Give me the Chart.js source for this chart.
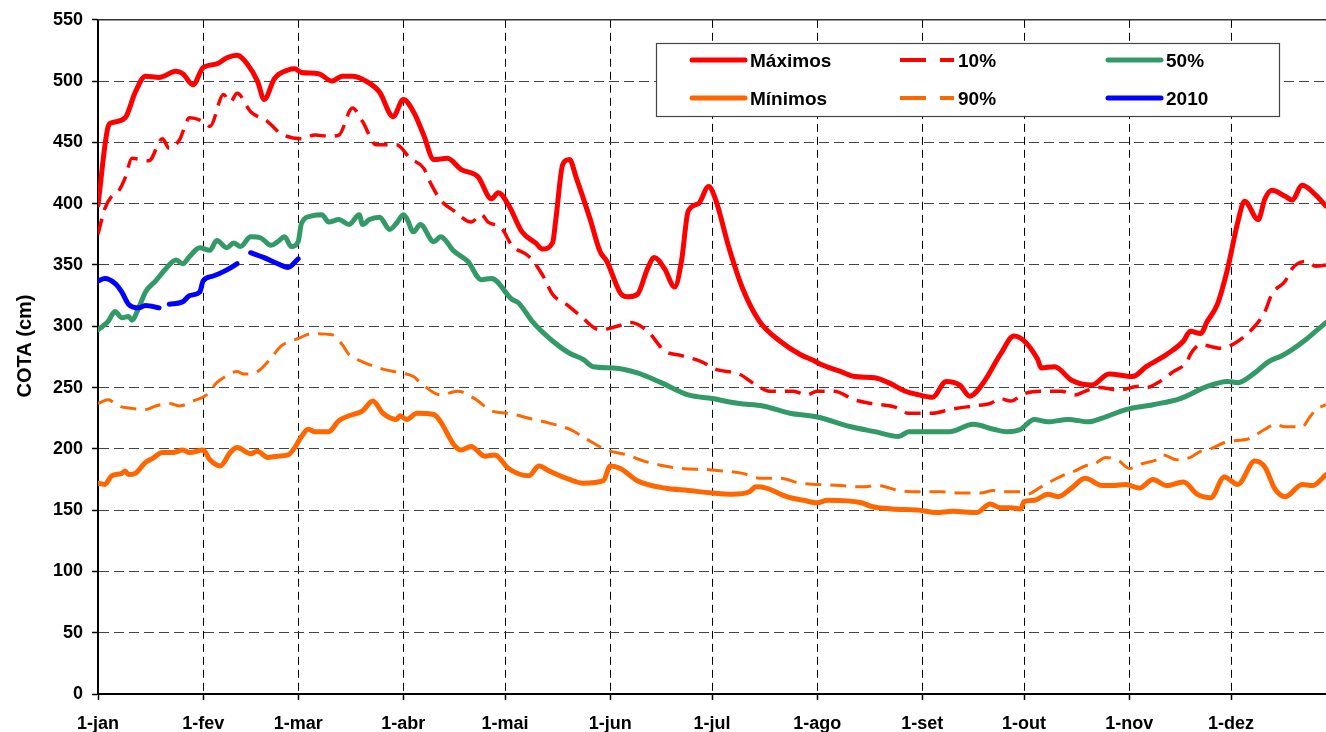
<!DOCTYPE html>
<html>
<head>
<meta charset="utf-8">
<script src="https://cdn.jsdelivr.net/npm/chart.js@4.4.0/dist/chart.umd.min.js"></script>
<style>
  html, body { margin: 0; padding: 0; background: #fff; }
  canvas { display: block; }
</style>
</head>
<body>
<canvas id="chart" width="1326" height="732"></canvas>
<script>
// x is the day of the year (0 = 1-jan)
const monthStarts = [0, 31, 59, 90, 120, 151, 181, 212, 243, 273, 304, 334];
const monthLabels = ['1-jan', '1-fev', '1-mar', '1-abr', '1-mai', '1-jun', '1-jul', '1-ago', '1-set', '1-out', '1-nov', '1-dez'];

const maxDays = [0, 3, 4, 8, 11, 14, 18, 23, 25, 28, 31, 35, 38, 41, 44, 47, 49, 52, 56, 58, 60, 65, 69, 72, 75, 79, 83, 87, 90, 93, 96, 99, 103, 107, 112, 116, 118, 121, 125, 129, 131, 134, 135, 137, 139, 141, 145, 148, 150, 154, 156, 159, 162, 164, 167, 170, 172, 174, 177, 180, 182, 186, 190, 195, 201, 207, 211, 213, 219, 223, 229, 233, 238, 242, 246, 250, 254, 257, 261, 266, 270, 277, 278, 282, 287, 293, 298, 305, 309, 315, 320, 322, 325, 327, 330, 333, 336, 338, 342, 344, 346, 350, 352, 355, 359, 362];
const maxVals = [399, 463, 466, 470, 491, 504, 503, 508, 506, 497, 511, 514, 519, 521, 514, 500, 485, 502, 509, 510, 507, 506, 500, 504, 504, 500, 491, 471, 485, 475, 456, 436, 437, 428, 422, 404, 409, 399, 377, 368, 363, 368, 388, 432, 436, 421, 388, 361, 353, 327, 324, 326, 347, 356, 347, 332, 353, 394, 400, 414, 404, 364, 331, 304, 288, 277, 272, 269, 263, 259, 258, 254, 247, 244, 242, 255, 252, 243, 254, 277, 292, 273, 266, 267, 256, 252, 261, 259, 267, 277, 288, 296, 294, 304, 318, 347, 385, 402, 387, 404, 411, 406, 403, 415, 407, 398];

const p10Days = [0, 2, 4, 6, 8, 10, 15, 19, 21, 24, 27, 31, 33, 37, 39, 41, 45, 50, 54, 60, 64, 68, 71, 75, 78, 82, 88, 92, 96, 98, 101, 105, 110, 113, 115, 119, 122, 127, 131, 134, 138, 142, 148, 153, 157, 162, 167, 172, 178, 182, 189, 194, 198, 205, 209, 212, 217, 223, 228, 235, 239, 246, 251, 258, 263, 266, 269, 273, 279, 284, 288, 291, 295, 301, 307, 309, 313, 317, 321, 322, 325, 331, 335, 340, 344, 346, 350, 352, 356, 359, 362];
const p10Vals = [375, 396, 406, 410, 421, 437, 435, 453, 445, 452, 470, 467, 463, 489, 483, 490, 475, 467, 457, 453, 456, 455, 456, 478, 467, 448, 448, 437, 429, 417, 403, 394, 385, 391, 385, 380, 366, 357, 342, 326, 318, 309, 297, 300, 303, 296, 280, 276, 271, 265, 261, 252, 247, 247, 244, 247, 247, 240, 237, 234, 229, 229, 232, 235, 237, 241, 239, 245, 247, 247, 244, 247, 250, 248, 251, 250, 255, 263, 271, 277, 285, 282, 286, 297, 312, 326, 337, 347, 353, 349, 350];

const p50Days = [0, 3, 5, 7, 9, 10, 12, 14, 17, 20, 23, 25, 27, 30, 33, 35, 38, 40, 42, 45, 48, 51, 53, 55, 57, 59, 60, 63, 66, 68, 71, 74, 77, 78, 80, 83, 86, 88, 90, 91, 93, 95, 99, 101, 105, 109, 113, 116, 122, 124, 128, 134, 139, 143, 146, 152, 159, 166, 174, 181, 189, 196, 204, 212, 222, 229, 236, 239, 251, 258, 264, 268, 272, 276, 280, 286, 292, 296, 303, 311, 319, 327, 333, 336, 341, 345, 349, 352, 356, 359, 362];
const p50Vals = [297, 304, 312, 307, 308, 305, 315, 328, 337, 347, 354, 351, 357, 364, 362, 370, 364, 368, 365, 373, 372, 366, 369, 373, 365, 369, 384, 390, 391, 385, 387, 383, 391, 383, 387, 389, 379, 384, 391, 388, 377, 383, 369, 373, 361, 353, 338, 339, 322, 319, 304, 288, 278, 273, 267, 266, 262, 254, 244, 241, 237, 235, 229, 226, 218, 214, 210, 214, 214, 220, 216, 214, 216, 224, 222, 224, 222, 225, 232, 236, 241, 251, 255, 254, 262, 271, 276, 281, 289, 296, 303];

const minDays = [0, 2, 4, 7, 8, 9, 11, 14, 16, 19, 22, 25, 27, 31, 33, 36, 39, 41, 45, 47, 50, 53, 56, 58, 60, 62, 64, 68, 71, 74, 78, 81, 84, 88, 89, 91, 94, 99, 101, 105, 107, 110, 114, 117, 121, 127, 130, 133, 139, 143, 149, 151, 154, 159, 167, 174, 181, 187, 192, 194, 197, 203, 208, 212, 215, 225, 228, 234, 242, 247, 252, 259, 263, 266, 269, 272, 273, 276, 280, 283, 287, 291, 296, 299, 303, 307, 311, 315, 320, 324, 328, 332, 336, 341, 344, 347, 350, 355, 358, 362];
const minVals = [172, 171, 178, 180, 182, 179, 180, 189, 192, 197, 197, 199, 197, 199, 191, 186, 197, 201, 196, 198, 193, 194, 195, 201, 210, 216, 214, 214, 223, 227, 231, 239, 229, 224, 227, 224, 229, 228, 222, 203, 199, 202, 194, 195, 184, 178, 186, 182, 175, 172, 174, 186, 184, 174, 168, 166, 164, 163, 165, 169, 168, 161, 158, 156, 158, 156, 153, 151, 150, 148, 149, 148, 155, 152, 152, 151, 157, 158, 163, 161, 168, 176, 170, 170, 171, 168, 175, 170, 173, 163, 160, 177, 171, 190, 185, 167, 161, 171, 170, 179];

const p90Days = [0, 3, 6, 10, 14, 17, 21, 24, 28, 32, 35, 37, 41, 43, 47, 51, 54, 57, 59, 63, 69, 72, 74, 78, 84, 89, 93, 95, 101, 106, 111, 116, 121, 127, 133, 139, 144, 150, 156, 161, 167, 172, 180, 184, 190, 195, 201, 207, 212, 219, 225, 230, 236, 242, 248, 254, 260, 264, 266, 272, 274, 278, 282, 285, 288, 291, 294, 297, 301, 304, 308, 312, 314, 318, 322, 325, 328, 333, 339, 344, 347, 350, 355, 357, 359, 362];
const p90Vals = [237, 240, 235, 233, 232, 235, 237, 235, 239, 244, 254, 258, 263, 261, 263, 274, 284, 288, 290, 294, 293, 285, 277, 271, 265, 262, 259, 254, 244, 247, 241, 231, 229, 225, 221, 216, 208, 199, 195, 190, 186, 184, 183, 182, 180, 176, 176, 172, 171, 170, 169, 170, 166, 165, 165, 164, 164, 166, 165, 165, 163, 169, 175, 179, 182, 186, 188, 193, 190, 184, 188, 191, 195, 191, 193, 198, 200, 206, 208, 216, 220, 218, 218, 225, 232, 236];

// 2010 has two short gaps (null)
const y2010Days = [0, 2, 5, 7, 9, 12, 14, 18, 19.5, 21, 25, 27, 30, 31, 34, 38, 41, 43, 45, 49, 53, 56, 59];
const y2010Vals = [337, 339, 335, 328, 318, 315, 317, 315, null, 318, 320, 325, 328, 337, 341, 346, 351, null, 360, 356, 351, 348, 355];

const FONT = 'Arial, "Liberation Sans", sans-serif';

function toPoints(days, vals) {
  return days.map((d, i) => ({ x: d, y: vals[i] }));
}

const legendItems = [
  { label: 'Máximos', color: '#FF0000', dashed: false, x: 690, y: 60 },
  { label: '10%', color: '#FF0000', dashed: true, x: 900, y: 60 },
  { label: '50%', color: '#339966', dashed: false, x: 1106, y: 60 },
  { label: 'Mínimos', color: '#FF6600', dashed: false, x: 690, y: 98 },
  { label: '90%', color: '#FF6600', dashed: true, x: 900, y: 98 },
  { label: '2010', color: '#0000FF', dashed: false, x: 1106, y: 98 },
];

const extras = {
  id: 'extras',
  afterDraw(chart) {
    const ctx = chart.ctx;
    const area = chart.chartArea;
    ctx.save();

    // top frame line
    ctx.strokeStyle = '#333';
    ctx.lineWidth = 1.5;
    ctx.beginPath();
    ctx.moveTo(area.left, area.top);
    ctx.lineTo(area.right, area.top);
    ctx.stroke();

    // y title
    ctx.save();
    ctx.translate(25, 346);
    ctx.rotate(-Math.PI / 2);
    ctx.fillStyle = '#000';
    ctx.font = 'bold 20px ' + FONT;
    ctx.textAlign = 'center';
    ctx.textBaseline = 'middle';
    ctx.fillText('COTA (cm)', 0, 0);
    ctx.restore();

    // legend box
    ctx.fillStyle = '#fff';
    ctx.fillRect(657, 43, 623, 74);
    ctx.strokeStyle = '#444';
    ctx.lineWidth = 1.2;
    ctx.strokeRect(656.5, 43.5, 623, 73);

    ctx.font = 'bold 19px ' + FONT;
    ctx.textBaseline = 'middle';
    ctx.textAlign = 'left';
    legendItems.forEach(it => {
      ctx.strokeStyle = it.color;
      ctx.beginPath();
      if (it.dashed) {
        ctx.lineWidth = 4;
        ctx.lineCap = 'butt';
        ctx.moveTo(it.x, it.y);
        ctx.lineTo(it.x + 26, it.y);
        ctx.moveTo(it.x + 40, it.y);
        ctx.lineTo(it.x + 54, it.y);
        ctx.stroke();
        ctx.fillStyle = '#000';
        ctx.fillText(it.label, it.x + 58, it.y + 2);
      } else {
        ctx.lineWidth = 5;
        ctx.lineCap = 'round';
        ctx.moveTo(it.x + 2, it.y);
        ctx.lineTo(it.x + 55, it.y);
        ctx.stroke();
        ctx.fillStyle = '#000';
        ctx.fillText(it.label, it.x + 60, it.y + 2);
      }
    });
    ctx.restore();
  }
};

function lineSet(label, days, vals, color, width, dash, order) {
  return {
    label: label,
    data: toPoints(days, vals),
    borderColor: color,
    backgroundColor: color,
    borderWidth: width,
    borderDash: dash,
    borderCapStyle: dash.length ? 'butt' : 'round',
    borderJoinStyle: 'round',
    pointRadius: 0,
    cubicInterpolationMode: 'monotone',
    spanGaps: false,
    fill: false,
    order: order,
  };
}

new Chart(document.getElementById('chart'), {
  type: 'line',
  data: {
    datasets: [
      lineSet('Máximos', maxDays, maxVals, '#FF0000', 5, [], 1),
      lineSet('10%', p10Days, p10Vals, '#FF0000', 3.5, [16, 9], 4),
      lineSet('50%', p50Days, p50Vals, '#339966', 5, [], 2),
      lineSet('Mínimos', minDays, minVals, '#FF6600', 5, [], 3),
      lineSet('90%', p90Days, p90Vals, '#FF6600', 3, [16, 9], 5),
      lineSet('2010', y2010Days, y2010Vals, '#0000FF', 5, [], 0),
    ]
  },
  options: {
    responsive: false,
    animation: false,
    devicePixelRatio: 1,
    layout: { padding: { top: 19, right: 0, left: 0, bottom: 0 } },
    plugins: {
      legend: { display: false },
      tooltip: { enabled: false },
    },
    scales: {
      x: {
        type: 'linear',
        min: 0,
        max: 362,
        afterFit(scale) { scale.height = 38; },
        afterBuildTicks(scale) {
          scale.ticks = monthStarts.map(v => ({ value: v }));
        },
        ticks: {
          autoSkip: false,
          maxRotation: 0,
          padding: 13,
          color: '#000',
          font: { family: FONT, size: 18, weight: 'bold' },
          callback(value) {
            const i = monthStarts.indexOf(value);
            return i >= 0 ? monthLabels[i] : '';
          },
        },
        grid: {
          color: '#000',
          lineWidth: 1,
          tickLength: 6,
          tickColor: '#000',
          tickWidth: 1.5,
        },
        border: { display: true, color: '#000', width: 2, dash: [8, 5] },
      },
      y: {
        min: 0,
        max: 550,
        afterFit(scale) { scale.width = 98; },
        ticks: {
          stepSize: 50,
          padding: 9,
          color: '#000',
          font: { family: FONT, size: 18, weight: 'bold' },
        },
        grid: {
          color: '#444',
          lineWidth: 1,
          tickLength: 6,
          tickColor: '#000',
          tickWidth: 1.5,
        },
        border: { display: true, color: '#000', width: 2, dash: [10, 5] },
      },
    },
  },
  plugins: [extras],
});
</script>
</body>
</html>
